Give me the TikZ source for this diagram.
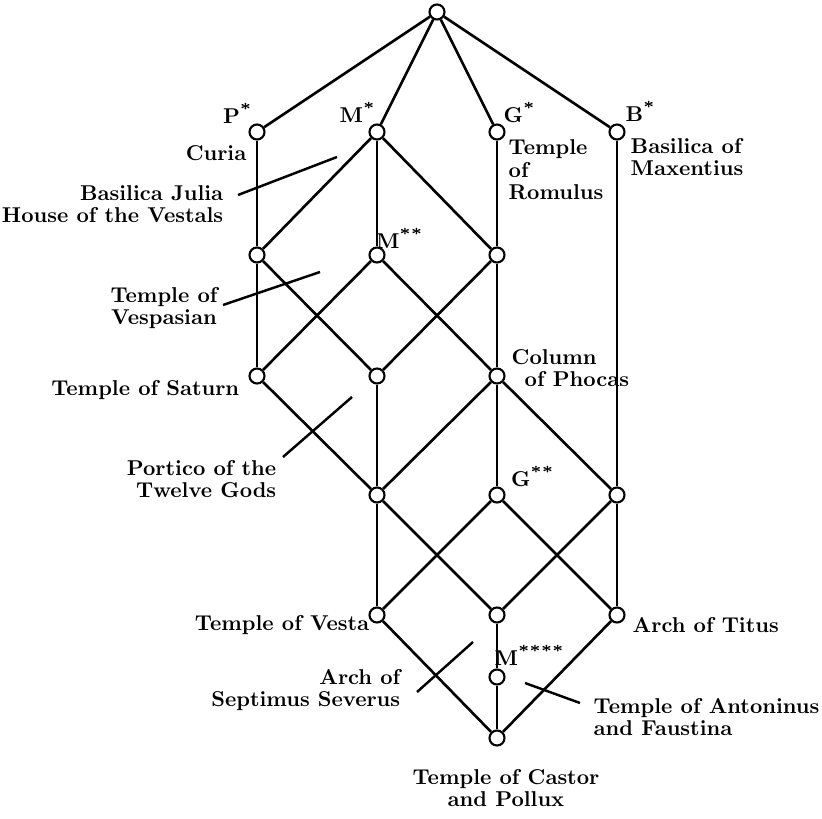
\documentclass[tikz,border=0pt]{standalone}
\font\lbf=cmbx10 at 6.1pt
\tikzset{
  vtx/.style={circle,draw,fill=white,line width=0.6pt,minimum size=0.15cm,inner sep=0pt},
  edge/.style={line width=0.75pt},
  lbl/.style={font=\fontsize{6.1}{6.4}\selectfont\bfseries\lbf,inner sep=0pt},
  ptr/.style={line width=0.7pt},
}
\begin{document}
\begin{tikzpicture}[x=0.01cm,y=-0.01cm]
\useasboundingbox (0,0) rectangle (822,819);
% lattice nodes
\node[vtx] (top) at (437,12) {};
\node[vtx] (p) at (257,132) {};
\node[vtx] (m) at (377,132) {};
\node[vtx] (g) at (497,132) {};
\node[vtx] (b) at (617,132) {};
\node[vtx] (a1) at (257,255) {};
\node[vtx] (mm) at (377,255) {};
\node[vtx] (a3) at (497,255) {};
\node[vtx] (sat) at (257,376) {};
\node[vtx] (c2) at (377,376) {};
\node[vtx] (pho) at (497,376) {};
\node[vtx] (d1) at (377,495) {};
\node[vtx] (gg) at (497,495) {};
\node[vtx] (d3) at (617,495) {};
\node[vtx] (ves) at (377,615) {};
\node[vtx] (e2) at (497,615) {};
\node[vtx] (tit) at (617,615) {};
\node[vtx] (m4) at (497,677) {};
\node[vtx] (cas) at (497,738) {};
% edges
\draw[edge] (top) -- (p);
\draw[edge] (top) -- (m);
\draw[edge] (top) -- (g);
\draw[edge] (top) -- (b);
\draw[edge] (p) -- (a1);
\draw[edge] (a1) -- (sat);
\draw[edge] (m) -- (a1);
\draw[edge] (m) -- (mm);
\draw[edge] (m) -- (a3);
\draw[edge] (g) -- (a3);
\draw[edge] (a3) -- (pho);
\draw[edge] (b) -- (d3);
\draw[edge] (d3) -- (tit);
\draw[edge] (a1) -- (c2);
\draw[edge] (mm) -- (sat);
\draw[edge] (mm) -- (pho);
\draw[edge] (a3) -- (c2);
\draw[edge] (sat) -- (d1);
\draw[edge] (c2) -- (d1);
\draw[edge] (pho) -- (d1);
\draw[edge] (pho) -- (gg);
\draw[edge] (pho) -- (d3);
\draw[edge] (d1) -- (ves);
\draw[edge] (d1) -- (e2);
\draw[edge] (gg) -- (ves);
\draw[edge] (gg) -- (tit);
\draw[edge] (d3) -- (e2);
\draw[edge] (ves) -- (cas);
\draw[edge] (tit) -- (cas);
\draw[edge] (e2) -- (m4);
\draw[edge] (m4) -- (cas);
% attribute labels
\node[lbl] (lp) at (238,113) {P\textsuperscript{*}};
\node[lbl] (lm) at (358,112) {M\textsuperscript{*}};
\node[lbl] (lg) at (520,112) {G\textsuperscript{*}};
\node[lbl] (lb) at (641,111) {B\textsuperscript{*}};
\node[lbl] (lmm) at (400,238) {M\textsuperscript{**}};
\node[lbl] (lgg) at (533,476) {G\textsuperscript{**}};
\node[lbl] (lm4) at (530,655) {M\textsuperscript{****}};
% object labels
\node[lbl,anchor=east] (curia) at (247,153) {Curia};
\node[lbl,anchor=east,align=right] (bj) at (224,204) {Basilica Julia\\House of the Vestals};
\node[lbl,anchor=west,align=left] (rom) at (508,170) {Temple\\of\\Romulus};
\node[lbl,anchor=west,align=left] (max) at (630,157) {Basilica of\\Maxentius};
\node[lbl,align=center] (vesp) at (164,308) {Temple of\\Vespasian};
\node[lbl,anchor=east] (satl) at (240,390) {Temple of Saturn};
\node[lbl,anchor=west,align=left] (phol) at (511,368) {Column\\\hspace{3.7pt}of Phocas};
\node[lbl,anchor=east,align=right] (port) at (277,479) {Portico of the\\Twelve Gods};
\node[lbl,anchor=east] (vesl) at (370,625) {Temple of Vesta};
\node[lbl,anchor=west] (titl) at (632,625) {Arch of Titus};
\node[lbl,anchor=east,align=right] (sept) at (401,690) {Arch of\\Septimus Severus};
\node[lbl,anchor=west,align=left] (anto) at (593,717) {Temple of Antoninus\\and Faustina};
\node[lbl,align=center] (casl) at (506,788) {Temple of Castor\\and Pollux};
% pointer lines
\coordinate (bj1) at (238,195); \coordinate (bj2) at (337,157);
\coordinate (ve1) at (223,305); \coordinate (ve2) at (320,272);
\coordinate (po1) at (283,457); \coordinate (po2) at (352,397);
\coordinate (se1) at (417,692); \coordinate (se2) at (473,642);
\coordinate (an1) at (580,703); \coordinate (an2) at (525,683);
\draw[ptr] (bj1) -- (bj2);
\draw[ptr] (ve1) -- (ve2);
\draw[ptr] (po1) -- (po2);
\draw[ptr] (se1) -- (se2);
\draw[ptr] (an1) -- (an2);
\end{tikzpicture}
\end{document}
